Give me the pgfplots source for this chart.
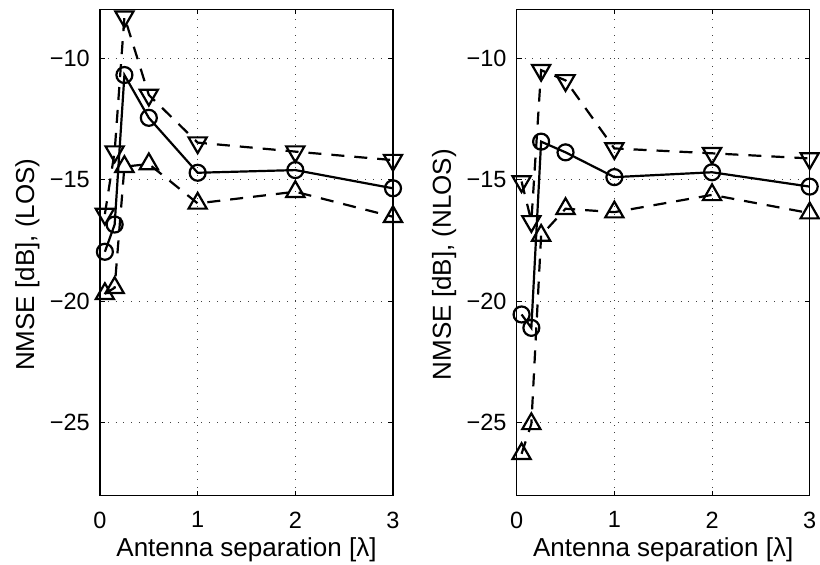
\documentclass[border=0pt]{standalone}
\usepackage{pgfplots}
\pgfplotsset{compat=1.18}
\usepackage{fontspec}
\setmainfont{Liberation Sans}

\begin{document}
\begin{tikzpicture}
\pgfplotsset{
  myax/.style={
    scale only axis, width=293bp, height=486.2bp,
    xmin=0, xmax=3, ymin=-28, ymax=-8,
    xtick={0,1,2,3}, xticklabels={0,1,2,3},
    ytick={-25,-20,-15,-10}, yticklabels={−25,−20,−15,−10},
    grid=major,
    major grid style={black!75, line width=0.7bp, dash pattern=on 0.8bp off 7bp},
    tick align=inside, major tick length=5bp, tick style={black, line width=0.8bp},
    axis line style={line width=1.5bp},
    ticklabel style={font=\fontsize{23.5bp}{28bp}\selectfont},
    label style={font=\fontsize{26bp}{31bp}\selectfont},
    xticklabel style={anchor=north, inner sep=0pt, yshift=-16bp},
    yticklabel style={anchor=east, inner sep=0pt, xshift=-10bp},
    xlabel style={at={(axis description cs:0.5,0)}, anchor=north, inner sep=0pt, yshift=-42bp},
    ylabel style={at={(axis description cs:-0.29,0.475)}, anchor=north, inner sep=0pt},
    xlabel={Antenna separation [λ]},
    clip=false,
  },
  circ/.style={black, line width=2.2bp, solid, mark=o, mark size=8bp, mark options={solid, line width=2.2bp}},
  dtri/.style={black, line width=2.2bp, dash pattern=on 13bp off 10bp, mark=triangle, mark size=10.5bp, mark options={solid, rotate=180, line width=2.2bp}},
  utri/.style={black, line width=2.2bp, dash pattern=on 13bp off 10bp, mark=triangle, mark size=10.5bp, mark options={solid, line width=2.2bp}},
}
\path[use as bounding box] (-100bp,-69.4bp) rectangle (720bp,495.6bp);

\begin{axis}[myax, at={(0bp,0bp)}, anchor=south west, ylabel={NMSE [dB], (LOS)}]
\addplot[dtri] coordinates {(0.05,-16.42) (0.15,-13.85) (0.25,-8.3) (0.5,-11.52) (1,-13.48) (2,-13.85) (3,-14.2)};
\addplot[utri] coordinates {(0.05,-19.7) (0.15,-19.45) (0.25,-14.47) (0.5,-14.36) (1,-15.98) (2,-15.5) (3,-16.53)};
\addplot[circ] coordinates {(0.05,-17.97) (0.15,-16.85) (0.25,-10.7) (0.5,-12.46) (1,-14.72) (2,-14.61) (3,-15.36)};
\end{axis}

\begin{axis}[myax, at={(416.7bp,0bp)}, anchor=south west, ylabel={NMSE [dB], (NLOS)}]
\addplot[dtri] coordinates {(0.05,-15.08) (0.15,-16.72) (0.25,-10.5) (0.5,-10.92) (1,-13.72) (2,-13.92) (3,-14.13)};
\addplot[utri] coordinates {(0.05,-26.28) (0.15,-25.05) (0.25,-17.3) (0.5,-16.2) (1,-16.34) (2,-15.63) (3,-16.38)};
\addplot[circ] coordinates {(0.05,-20.55) (0.15,-21.1) (0.25,-13.44) (0.5,-13.88) (1,-14.9) (2,-14.7) (3,-15.29)};
\end{axis}
\end{tikzpicture}
\end{document}
